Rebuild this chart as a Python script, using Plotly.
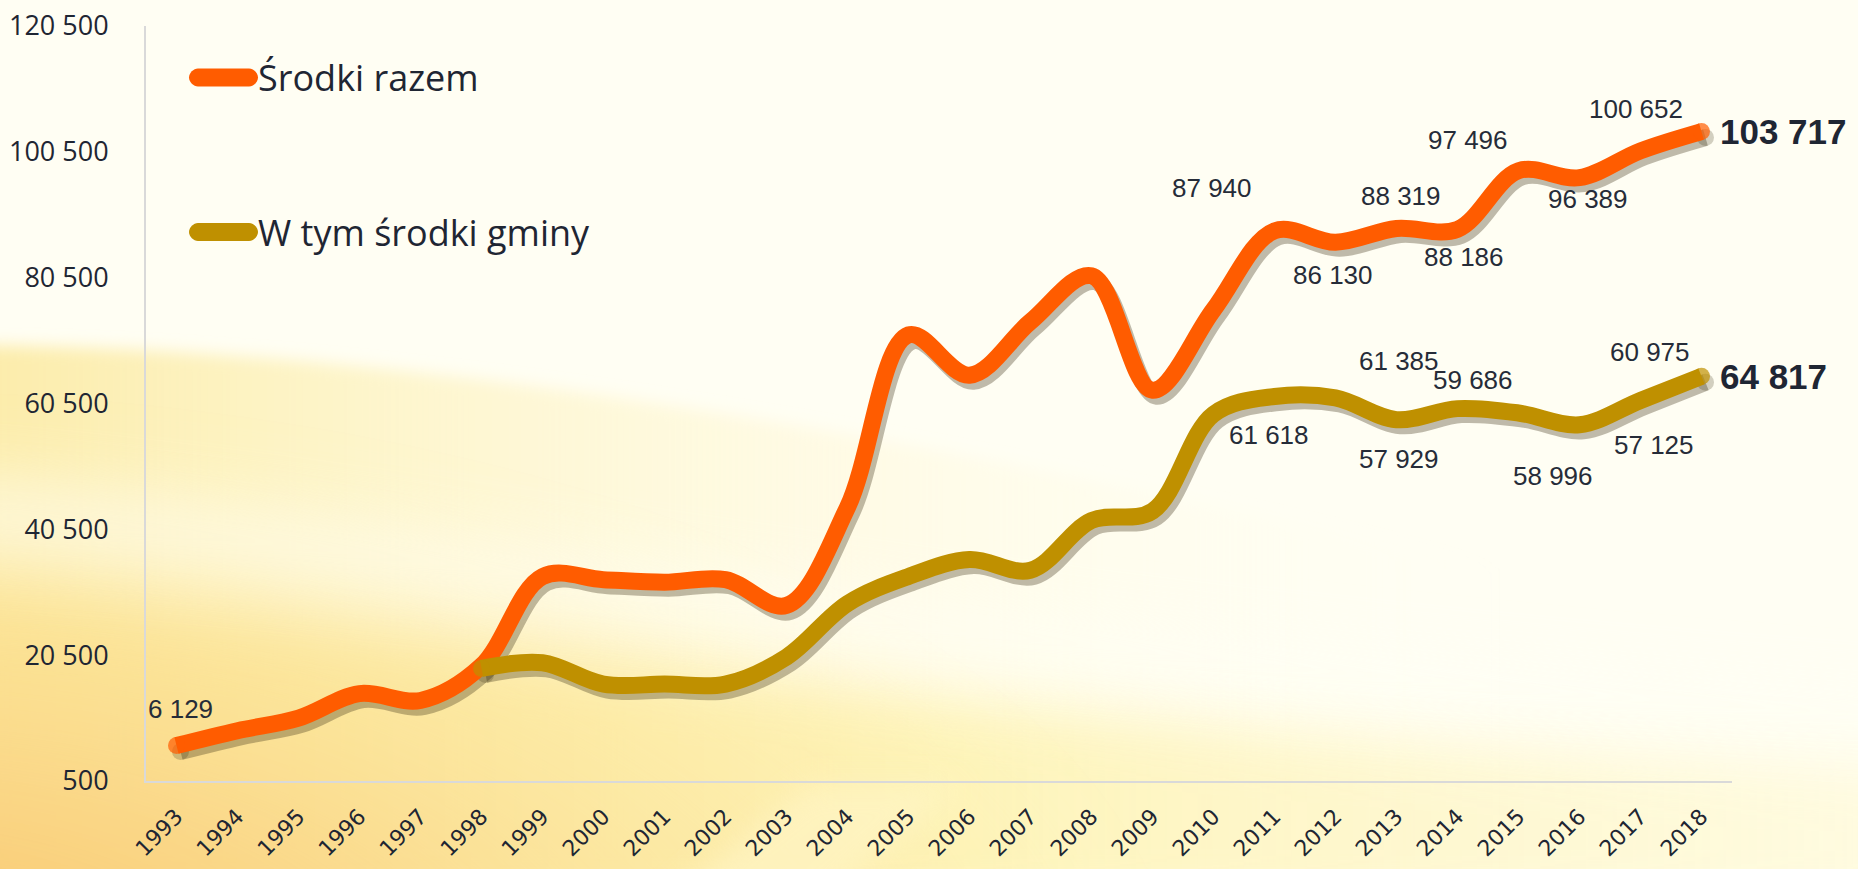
import base64
import plotly.graph_objects as go

# ---------------- data ----------------
years = [1993, 1994, 1995, 1996, 1997, 1998, 1999, 2000, 2001, 2002, 2003, 2004, 2005,
         2006, 2007, 2008, 2009, 2010, 2011, 2012, 2013, 2014, 2015, 2016, 2017, 2018]

srodki_razem = [6129, 8500, 10500, 14400, 13300, 18800, 33000, 32500, 32100,
                32500, 28400, 44000, 71400, 65000, 73500, 80800, 62600, 75400,
                87940, 86130, 88319, 88186, 97496, 96389, 100652, 103717]

srodki_gminy = [None, None, None, None, None, 18400, 19300, 15900, 15900,
                15900, 20200, 28700, 33000, 35700, 34000, 41900, 43400, 58800,
                61618, 61385, 57929, 59686, 58996, 57125, 60975, 64817]

series_names = ["Środki razem", "W tym środki gminy"]

y_tick_values = [500, 20500, 40500, 60500, 80500, 100500, 120500]
y_tick_labels = ["500", "20 500", "40 500", "60 500", "80 500", "100 500", "120 500"]

# years that carry a value label (per series)
labelled_razem = [1993, 2011, 2012, 2013, 2014, 2015, 2016, 2017]
labelled_gminy = [2011, 2012, 2013, 2014, 2015, 2016, 2017]

# ---------------- styling / placement ----------------
W, H = 1858, 869
ML, MR, MT, MB = 146, 122, 26, 82
PW, PH = W - ML - MR, H - MT - MB
SX, SY = 4, 6                      # shadow offset (px)
ex, ey = SX / PW, SY / PH

C_RAZEM = "#FF5C00"
C_GMINY = "#BF9000"
C_SHADOW = "rgba(60,50,20,0.33)"
TXT = "#1F2633"
LW = 17

# label offsets (pixels) relative to their data point
off_razem = {1993: (4, 37), 2011: (-63, 43), 2012: (-3, -33), 2013: (4, 32),
             2014: (6, -28), 2015: (-51, 31), 2016: (8, -21), 2017: (-5, 42)}
off_gminy = {2011: (-6, -39), 2012: (63, 37), 2013: (2, -39), 2014: (15, 29),
             2015: (34, -63), 2016: (74, -20), 2017: (9, 49)}


def fmt(v):
    return f"{v:,}".replace(",", " ")


def px_x(px):
    return (px - ML) / PW


def px_y(py):
    return (MT + PH - py) / PH


def end_sizes(vals):
    idx = [i for i, v in enumerate(vals) if v is not None]
    return [LW if i in (idx[0], idx[-1]) else 0 for i in range(len(vals))]


# ---------------- background (svg gradient image) ----------------
svg = f'''<svg xmlns="http://www.w3.org/2000/svg" width="{W}" height="{H}" viewBox="0 0 {W} {H}">
<defs>
<filter id="b1" x="-30%" y="-30%" width="160%" height="160%"><feGaussianBlur stdDeviation="30"/></filter>
<filter id="b3" x="-30%" y="-30%" width="160%" height="160%"><feGaussianBlur stdDeviation="8"/></filter>
<filter id="b2" x="-30%" y="-30%" width="160%" height="160%"><feGaussianBlur stdDeviation="14"/></filter>
<linearGradient id="lg" x1="0" y1="0" x2="1" y2="0">
<stop offset="0" stop-color="#FCEBA6" stop-opacity="1"/>
<stop offset="0.3" stop-color="#FDF3C2" stop-opacity="0.75"/>
<stop offset="1" stop-color="#FFFDF0" stop-opacity="0"/>
</linearGradient>
<linearGradient id="lg2" x1="0" y1="0" x2="1" y2="0">
<stop offset="0" stop-color="#FCE28E" stop-opacity="1"/>
<stop offset="0.5" stop-color="#FDF0A6" stop-opacity="0.85"/>
<stop offset="1" stop-color="#FEF8CF" stop-opacity="0.6"/>
</linearGradient>
<radialGradient id="rg" cx="0" cy="1" r="1">
<stop offset="0" stop-color="#F7BE62" stop-opacity="1"/>
<stop offset="0.45" stop-color="#FAD586" stop-opacity="0.7"/>
<stop offset="1" stop-color="#FDEFAA" stop-opacity="0"/>
</radialGradient>
</defs>
<rect width="{W}" height="{H}" fill="#FFFEF3"/>
<path d="M-60,345 C400,345 900,430 1500,570 L1500,920 L-60,920 Z" fill="url(#lg)" filter="url(#b3)"/>
<path d="M-60,600 C500,640 1100,740 1920,765 L1920,920 L-60,920 Z" fill="url(#lg2)" opacity="0.85" filter="url(#b1)"/>
<rect x="-150" y="430" width="1300" height="570" fill="url(#rg)" filter="url(#b1)"/>
<path d="M-60,470 C500,515 1000,640 1920,700 L1920,735 C1000,690 500,585 -60,555 Z" fill="#FFFFF6" opacity="0.55" filter="url(#b1)"/>
<path d="M640,920 L810,785 L960,785 L800,920 Z" fill="#FFF6C8" opacity="0.6" filter="url(#b2)"/>
</svg>'''
bg_src = "data:image/svg+xml;base64," + base64.b64encode(svg.encode("utf-8")).decode("ascii")

fig = go.Figure()

# shadows (drawn first, on the slightly shifted subplot x/y)
for vals in (srodki_razem, srodki_gminy):
    fig.add_trace(go.Scatter(
        x=years, y=vals, xaxis="x", yaxis="y", mode="lines+markers",
        line=dict(color=C_SHADOW, width=LW, shape="spline", smoothing=1.0),
        marker=dict(size=end_sizes(vals), color=C_SHADOW, line=dict(width=0)),
        showlegend=False, hoverinfo="skip", connectgaps=False))

# main lines
for vals, col, name in ((srodki_razem, C_RAZEM, series_names[0]),
                        (srodki_gminy, C_GMINY, series_names[1])):
    fig.add_trace(go.Scatter(
        x=years, y=vals, xaxis="x2", yaxis="y2", mode="lines+markers", name=name,
        line=dict(color=col, width=LW, shape="spline", smoothing=1.0),
        marker=dict(size=end_sizes(vals), color=col, line=dict(width=0)),
        showlegend=False, connectgaps=False))

annotations = []
label_font = dict(family="Liberation Sans, Arial, sans-serif", size=26, color="#262C38")
for vals, labelled, offs in ((srodki_razem, labelled_razem, off_razem),
                             (srodki_gminy, labelled_gminy, off_gminy)):
    for yr in labelled:
        v = vals[years.index(yr)]
        dx, dy = offs[yr]
        annotations.append(dict(x=yr, y=v, xref="x2", yref="y2", text=fmt(v),
                                showarrow=False, xshift=dx, yshift=dy,
                                font=label_font, xanchor="center", yanchor="middle"))
    annotations.append(dict(x=years[-1], y=vals[-1], xref="x2", yref="y2",
                            text="<b>" + fmt(vals[-1]) + "</b>", showarrow=False,
                            xshift=16, yshift=0, xanchor="left", yanchor="middle",
                            font=dict(family="Liberation Sans, Arial, sans-serif",
                                      size=35, color=TXT)))

# custom legend
legend_rows = [(series_names[0], C_RAZEM, 77.5), (series_names[1], C_GMINY, 232)]
shapes = []
r, hl = 9, 34.5
sw_path = (f"M{-hl + r},{-r} L{hl - r},{-r} C{hl - r / 2},{-r} {hl},{-r / 2} {hl},0 "
           f"C{hl},{r / 2} {hl - r / 2},{r} {hl - r},{r} L{-hl + r},{r} "
           f"C{-hl + r / 2},{r} {-hl},{r / 2} {-hl},0 C{-hl},{-r / 2} {-hl + r / 2},{-r} {-hl + r},{-r} Z")
for name, col, cy in legend_rows:
    shapes.append(dict(type="path", xref="paper", yref="paper", xsizemode="pixel",
                       ysizemode="pixel", xanchor=px_x(223.5), yanchor=px_y(cy),
                       path=sw_path, fillcolor=col, line=dict(width=0), layer="above"))
    annotations.append(dict(x=px_x(256), y=px_y(cy), xref="paper", yref="paper",
                            text=name, showarrow=False, xanchor="left", yanchor="middle",
                            font=dict(family="Open Sans, sans-serif", size=36, color=TXT)))

x_range = [years[0] - 0.5, years[-1] + 0.5]
fig.update_layout(
    width=W, height=H,
    margin=dict(l=ML, r=MR, t=MT, b=MB, pad=0, autoexpand=False),
    paper_bgcolor="#FFFEF3", plot_bgcolor="rgba(0,0,0,0)",
    showlegend=False,
    images=[dict(source=bg_src, xref="paper", yref="paper", x=px_x(0), y=px_y(0),
                 sizex=W / PW, sizey=H / PH, xanchor="left", yanchor="top",
                 sizing="stretch", layer="below")],
    xaxis=dict(domain=[ex, 1], anchor="y", range=x_range, visible=False, fixedrange=True,
               automargin=False),
    yaxis=dict(domain=[0, 1 - ey], anchor="x", range=[500, 120500], visible=False,
               fixedrange=True, automargin=False),
    xaxis2=dict(domain=[0, 1 - ex], anchor="y2", range=x_range, automargin=False,
                tickmode="array", tickvals=years, ticktext=[str(y) for y in years],
                showline=True, linecolor="#D9D9D9", linewidth=2, showgrid=False,
                zeroline=False, ticks="", tickangle=-45, ticklabelstandoff=12,
                tickfont=dict(family="DejaVu Sans, Verdana, sans-serif", size=22, color=TXT)),
    yaxis2=dict(domain=[ey, 1], anchor="x2", range=[500, 120500], automargin=False,
                tickvals=y_tick_values, ticktext=y_tick_labels,
                showline=True, linecolor="#D9D9D9", linewidth=2, showgrid=False,
                zeroline=False, ticks="", ticklabelstandoff=30,
                tickfont=dict(family="Open Sans, sans-serif", size=27, color=TXT)),
    annotations=annotations,
    shapes=shapes,
)

fig.write_html("out.html", config={"displayModeBar": False},
               post_script="document.body.style.margin='0';document.body.style.overflow='hidden';")
